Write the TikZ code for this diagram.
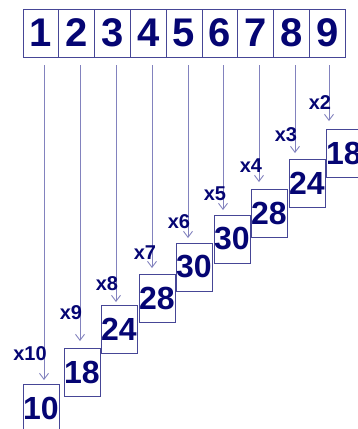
\documentclass[tikz,border=0pt]{standalone}
\usepackage{fontspec}
\setmainfont{Liberation Sans}
\usetikzlibrary{arrows.meta}
\definecolor{ink}{RGB}{5,5,115}
\definecolor{boxc}{RGB}{70,70,150}
\definecolor{arrc}{RGB}{130,130,190}
\tikzset{
  topbox/.style={draw=boxc, line width=0.9pt, minimum width=35.8pt, minimum height=48pt, inner sep=0pt, text=ink, font=\bfseries\fontsize{40}{40}\selectfont},
  resbox/.style={draw=boxc, line width=0.9pt, minimum width=36pt, minimum height=48pt, inner sep=0pt, text=ink, font=\bfseries\fontsize{32}{32}\selectfont},
  mlabel/.style={text=ink, font=\bfseries\fontsize{20}{20}\selectfont, inner sep=0pt},
  conn/.style={draw=arrc, line width=0.9pt, -{Straight Barb[length=6pt,width=9pt]}}
}
\begin{document}
\begin{tikzpicture}[x=1pt,y=-1pt]
\useasboundingbox (0,0) rectangle (358,429);
% top row
\foreach \i in {1,...,9}{
  \node[topbox] (t\i) at ({23+35.8*(\i-1)+17.9},33) {\i};
}
% result boxes: name, left x, top y, value
\foreach \n/\lx/\ty/\v in {r1/23/384/10, r2/64/348/18, r3/101/305/24, r4/139/274/28, r5/176/243/30, r6/214/215/30, r7/251/189/28, r8/289/159/24, r9/326/129/18}{
  \node[resbox] (\n) at ({\lx+18},{\ty+24}) {\v};
}
% arrows and labels
\foreach \i/\ax/\ty/\lab/\lx/\ly in {1/44/380/x10/30/354, 2/80/341/x9/71/313, 3/116/302/x8/107/284, 4/152/268/x7/145/253, 5/188/238/x6/179/222, 6/223/210/x5/215/194, 7/259/182/x4/251/166, 8/295/153/x3/286/135, 9/329/121/x2/320/103}{
  \coordinate (s\i) at (\ax,65);
  \coordinate (e\i) at (\ax,\ty);
  \draw[conn] (s\i) -- (e\i);
  \node[mlabel] (l\i) at (\lx,\ly) {\lab};
}
\end{tikzpicture}
\end{document}
